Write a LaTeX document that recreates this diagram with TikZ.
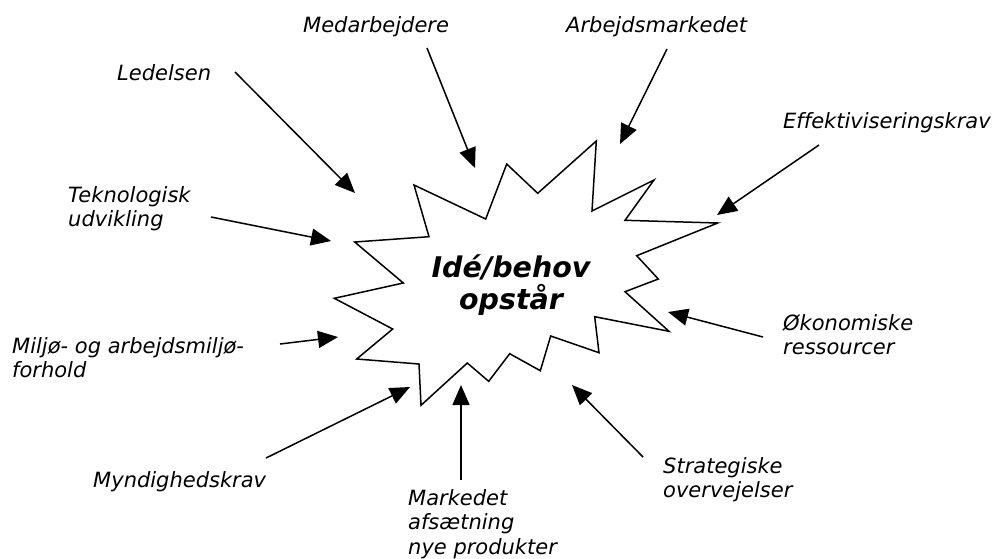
\documentclass[tikz,border=0pt]{standalone}
\usepackage{fontspec}
\setmainfont[Ligatures=NoCommon]{DejaVu Sans}
\usetikzlibrary{arrows.meta}
\begin{document}
\begin{tikzpicture}[x=1pt,y=-1pt,
  lbl/.style={anchor=base west,inner sep=0pt,align=left,font=\fontsize{21}{24.5}\selectfont\itshape},
  inarrow/.style={line width=1.5pt,-{Triangle[length=20pt,width=17pt]}},
  burst/.style={draw,line width=1.5pt,line join=miter,fill=white}]
\useasboundingbox (0,0) rectangle (993,558);
\draw[burst] (414,185) -- (485.7,219) -- (506.7,164) -- (537.7,193.3) -- (596.3,141) -- (592,211) -- (654,180) -- (625,220.3) -- (717.7,223) -- (636.7,255.7) -- (658.3,279) -- (625,291.7) -- (669,331.3) -- (594.7,316.7) -- (599,352.7) -- (550.7,336) -- (540.3,370.7) -- (509.7,353.7) -- (488.7,381.3) -- (467.3,363) -- (421,405.3) -- (419,364) -- (356.7,359) -- (392.7,329) -- (334.3,298.3) -- (403.3,283) -- (354.7,242) -- (429,236.7) -- cycle;
\node[anchor=base,inner sep=0pt,align=center,font=\fontsize{28.5}{32}\selectfont\bfseries\itshape] (idea) at (511,309) {Idé/behov\\opstår};

\node[lbl] (med) at (303,32) {Medarbejdere};
\node[lbl] (arb) at (566,32) {Arbejdsmarkedet};
\node[lbl] (led) at (117,80) {Ledelsen};
\node[lbl] (eff) at (783,128) {Effektiviseringskrav};
\node[lbl] (tek) at (68,226.5) {Teknologisk\\udvikling};
\node[lbl] (mil) at (12,377.5) {Miljø- og arbejdsmiljø-\\forhold};
\node[lbl] (oko) at (783,354.5) {Økonomiske\\ressourcer};
\node[lbl] (myn) at (93,487) {Myndighedskrav};
\node[lbl] (mar) at (408,554) {Markedet\\afsætning\\nye produkter};
\node[lbl] (str) at (663,497.5) {Strategiske\\overvejelser};

\coordinate (ledS) at (235,72);  \coordinate (ledT) at (355,193);
\coordinate (medS) at (427,48);  \coordinate (medT) at (475,168);
\coordinate (arbS) at (667,49);  \coordinate (arbT) at (620,144);
\coordinate (effS) at (819,145); \coordinate (effT) at (717,215);
\coordinate (tekS) at (211,217); \coordinate (tekT) at (331,241);
\coordinate (milS) at (280,344); \coordinate (milT) at (338,337);
\coordinate (mynS) at (266,458); \coordinate (mynT) at (410,387);
\coordinate (marS) at (461,480); \coordinate (marT) at (461,385);
\coordinate (strS) at (643,457); \coordinate (strT) at (572,385);
\coordinate (okoS) at (763,337); \coordinate (okoT) at (668,312);

\foreach \a in {led,med,arb,eff,tek,mil,myn,mar,str,oko}
  \draw[inarrow] (\a S) -- (\a T);
\end{tikzpicture}
\end{document}
